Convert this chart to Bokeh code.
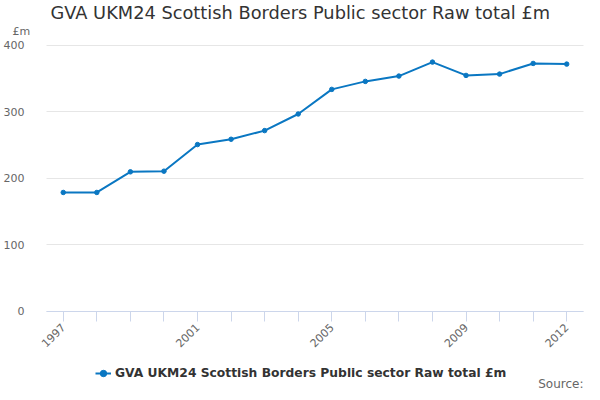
import math
from bokeh.plotting import figure
from bokeh.models import (ColumnDataSource, Legend, LegendItem, FixedTicker,
                          Range1d, Title, Label)
from bokeh.embed import file_html
from bokeh.resources import INLINE

years = list(range(1997, 2013))
values = [179, 179, 210, 211, 251, 259, 272, 297, 334, 346, 354, 375, 355, 357, 373, 372]
label_years = [1997, 2001, 2005, 2009, 2012]
y_ticks = [0, 100, 200, 300, 400]
title_text = "GVA UKM24 Scottish Borders Public sector Raw total £m"
series_name = "GVA UKM24 Scottish Borders Public sector Raw total £m"
unit_text = "£m"
source_text = "Source:"

LINE = "#0a77c2"
FONT = "DejaVu Sans"

# data area spans 1996.5..2012.5 and 0..400; the frame is extended left, up and
# downward so that axis labels, legend and source note sit inside it
DATA_X = (1996.5, 2012.5)
X_START, X_END = 1995.13, 2012.53
Y_START, Y_END = -121.8, 410.5

src = ColumnDataSource(dict(x=years, y=values))

p = figure(width=584, height=392, output_backend="svg", toolbar_location=None,
           x_range=Range1d(X_START, X_END), y_range=Range1d(Y_START, Y_END),
           min_border_left=0, min_border_right=0, min_border_top=38, min_border_bottom=0)
p.outline_line_color = None
p.background_fill_color = "white"
p.border_fill_color = "white"

r_line = p.line("x", "y", source=src, line_color=LINE, line_width=2)
r_pts = p.scatter("x", "y", source=src, size=4.5, fill_color=LINE, line_color=LINE)

# x axis, drawn at y = 0
p.xaxis.fixed_location = 0
p.xaxis.bounds = DATA_X
p.xaxis.ticker = FixedTicker(ticks=years)
p.xaxis.major_label_overrides = {yr: (str(yr) if yr in label_years else "") for yr in years}
p.xaxis.major_label_orientation = math.pi / 4
p.xaxis.axis_line_color = "#ccd6eb"
p.xaxis.major_tick_line_color = "#ccd6eb"
p.xaxis.major_tick_out = 10
p.xaxis.major_tick_in = 0
p.xaxis.minor_tick_line_color = None
p.xaxis.major_label_text_color = "#666666"
p.xaxis.major_label_text_font = FONT
p.xaxis.major_label_text_font_size = "11px"
p.xaxis.major_label_standoff = 4
p.xgrid.grid_line_color = None

# y axis, drawn at the left edge of the data area
p.yaxis.fixed_location = DATA_X[0]
p.yaxis.bounds = (0, 400)
p.yaxis.ticker = FixedTicker(ticks=y_ticks)
p.yaxis.axis_line_color = None
p.yaxis.major_tick_line_color = None
p.yaxis.minor_tick_line_color = None
p.yaxis.major_label_text_color = "#666666"
p.yaxis.major_label_text_font = FONT
p.yaxis.major_label_text_font_size = "11px"
p.yaxis.major_label_standoff = 16
p.ygrid.grid_line_color = "#e6e6e6"
p.ygrid.cross_bounds = DATA_X

# title (outermost above)
p.title.text = title_text
p.title.text_font = FONT
p.title.text_font_size = "17.8px"
p.title.text_font_style = "normal"
p.title.text_color = "#333333"
p.title.align = "left"
p.title.offset = 50
p.title.standoff = -3

# unit label (above, next to the frame)
unit = Title(text=unit_text, text_font=FONT, text_font_size="11px", text_font_style="normal",
             text_color="#666666", align="left", offset=12, standoff=2)
p.add_layout(unit, "above")

legend = Legend(items=[LegendItem(label=series_name, renderers=[r_line, r_pts])],
                location=(95, 11), orientation="horizontal",
                glyph_width=16, glyph_height=16, label_height=16, label_standoff=4,
                padding=0, margin=0, spacing=0,
                border_line_color=None, background_fill_alpha=0,
                label_text_font=FONT, label_text_font_size="12.3px",
                label_text_font_style="bold", label_text_color="#333333")
p.add_layout(legend, "center")

p.add_layout(Label(x=583, y=9, x_units="screen", y_units="screen", text=source_text,
                   text_font=FONT, text_font_size="12px", text_color="#666666",
                   text_align="right", text_baseline="alphabetic"))

open("out.html", "w").write(file_html(p, INLINE))
